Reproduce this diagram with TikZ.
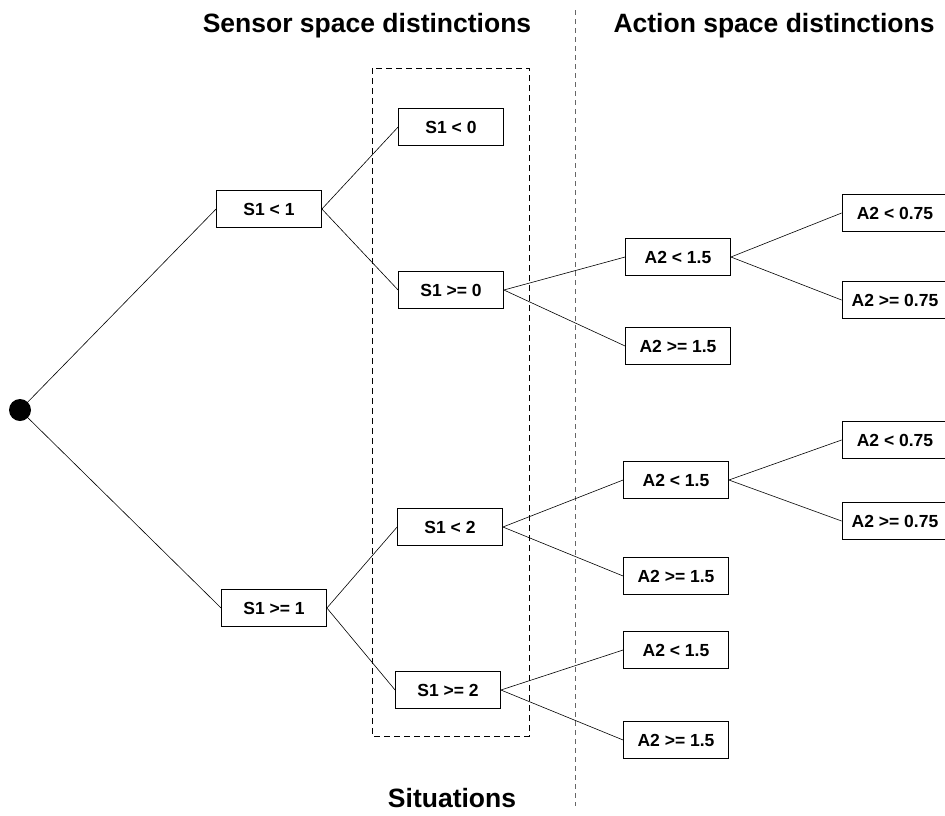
\documentclass[tikz,border=0pt]{standalone}
\usepackage{fontspec}
\setmainfont{Liberation Sans}
\begin{document}
\begin{tikzpicture}[x=1pt,y=-1pt,
  cond/.style={draw=black,line width=0.8pt,fill=white,minimum width=105pt,minimum height=37pt,
    inner sep=0pt,font=\fontsize{17.5}{19}\selectfont\bfseries},
  heading/.style={font=\fontsize{26.5}{30}\selectfont\bfseries,anchor=base,inner sep=0pt},
  branch/.style={line width=0.6pt},
  rootdot/.style={circle,fill=black,minimum size=22pt,inner sep=0pt}]
\useasboundingbox (0,0) rectangle (945,815);
\clip (0,0) rectangle (945,815);

% headings
\node[heading] (hsensor) at (367,32) {Sensor space distinctions};
\node[heading] (haction) at (774,32) {Action space distinctions};
\node[heading] (hsit) at (452,807) {Situations};

% separators
\coordinate (septop) at (575,10);
\coordinate (sepbot) at (575,806);
\draw[gray!80!black,line width=0.6pt,dash pattern=on 5pt off 4pt] (septop) -- (sepbot);
\draw[line width=0.7pt,dash pattern=on 6pt off 4pt] (372,68) rectangle (529,736);

% root
\node[rootdot] (root) at (20,410) {};

% sensor splits
\node[cond] (s1a) at (269,209) {S1 < 1};
\node[cond] (s1b) at (274,608) {S1 >= 1};
\node[cond] (s0a) at (451,127) {S1 < 0};
\node[cond] (s0b) at (451,290) {S1 >= 0};
\node[cond] (s2a) at (450,527) {S1 < 2};
\node[cond] (s2b) at (448,690) {S1 >= 2};

% action splits
\node[cond] (a1a) at (678,257) {A2 < 1.5};
\node[cond] (a1b) at (678,346) {A2 >= 1.5};
\node[cond] (a2a) at (676,480) {A2 < 1.5};
\node[cond] (a2b) at (676,576) {A2 >= 1.5};
\node[cond] (a3a) at (676,650) {A2 < 1.5};
\node[cond] (a3b) at (676,740) {A2 >= 1.5};

% second-level action splits, running off the right edge
\node[cond,minimum width=106pt] (b1a) at (895,213) {A2 < 0.75};
\node[cond,minimum width=106pt] (b1b) at (895,300) {A2 >= 0.75};
\node[cond,minimum width=106pt] (b2a) at (895,440) {A2 < 0.75};
\node[cond,minimum width=106pt] (b2b) at (895,521) {A2 >= 0.75};

% branches
\draw[branch] (root) -- (s1a.west);
\draw[branch] (root) -- (s1b.west);
\draw[branch] (s1a.east) -- (s0a.west);
\draw[branch] (s1a.east) -- (s0b.west);
\draw[branch] (s1b.east) -- (s2a.west);
\draw[branch] (s1b.east) -- (s2b.west);
\draw[branch] (s0b.east) -- (a1a.west);
\draw[branch] (s0b.east) -- (a1b.west);
\draw[branch] (s2a.east) -- (a2a.west);
\draw[branch] (s2a.east) -- (a2b.west);
\draw[branch] (s2b.east) -- (a3a.west);
\draw[branch] (s2b.east) -- (a3b.west);
\draw[branch] (a1a.east) -- (b1a.west);
\draw[branch] (a1a.east) -- (b1b.west);
\draw[branch] (a2a.east) -- (b2a.west);
\draw[branch] (a2a.east) -- (b2b.west);
\end{tikzpicture}
\end{document}
